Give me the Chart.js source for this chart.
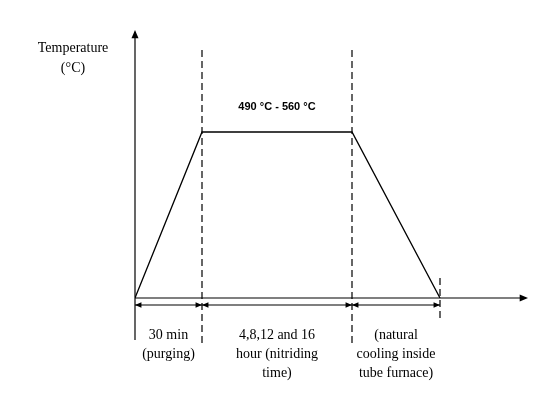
<!DOCTYPE html><html><head><script src="https://cdn.jsdelivr.net/npm/chart.js@4"></script>
<style>body{margin:0;background:#fff}#w{width:555px;height:411px}</style></head><body><div id="w"><canvas id="c"></canvas></div>
<script>
const stageX=[0,67,217,305];
const tempY=[0,1,1,0];
const boundaries=[67,217,305];
const rangeLabel="490 °C - 560 °C";
const stageLabels=[["30 min","(purging)"],["4,8,12 and 16","hour (nitriding","time)"],["(natural","cooling inside","tube furnace)"]];
const serif="'Liberation Serif','Times New Roman',serif";
const deco={id:'deco',afterDraw(ch){
 const c=ch.ctx,x=ch.scales.x,y=ch.scales.y;const X=v=>x.getPixelForValue(v),Y=v=>y.getPixelForValue(v);
 const x0=X(0),y0=Y(0);c.save();c.strokeStyle='#000';c.fillStyle='#000';c.lineWidth=1.2;
 function arrow(x1,y1,x2,y2,s){const a=Math.atan2(y2-y1,x2-x1);c.beginPath();c.moveTo(x2,y2);c.lineTo(x2-s*Math.cos(a-0.4),y2-s*Math.sin(a-0.4));c.lineTo(x2-s*Math.cos(a+0.4),y2-s*Math.sin(a+0.4));c.closePath();c.fill();}
 c.beginPath();c.moveTo(x0,y0);c.lineTo(x0,32);c.stroke();arrow(x0,y0,x0,30,9);
 c.beginPath();c.moveTo(x0,y0);c.lineTo(526,y0);c.stroke();arrow(x0,y0,528,y0,9);
 c.setLineDash([7,4]);
 boundaries.forEach((b,i)=>{const px=X(b);c.beginPath();if(i<2){c.moveTo(px,50);c.lineTo(px,345);}else{c.moveTo(px,278);c.lineTo(px,322);}c.stroke();});
 c.setLineDash([]);c.beginPath();c.moveTo(x0,y0);c.lineTo(x0,340);c.stroke();
 const pts=[0,...boundaries];
 for(let i=0;i<3;i++){const a=X(pts[i]),b=X(pts[i+1]),yy=305;c.beginPath();c.moveTo(a,yy);c.lineTo(b,yy);c.stroke();arrow(b,yy,a,yy,7);arrow(a,yy,b,yy,7);
  c.font='14px '+serif;c.textAlign='center';stageLabels[i].forEach((t,k)=>c.fillText(t,(a+b)/2,339+k*19));}
 c.font='bold 11px Arial, Liberation Sans, sans-serif';c.textAlign='center';c.fillText(rangeLabel,(X(67)+X(217))/2,110);
 c.font='14px '+serif;c.fillText('Temperature',73,52);c.fillText('(°C)',73,72);
 c.restore();}};
new Chart(document.getElementById('c'),{type:'line',data:{datasets:[{data:stageX.map((v,i)=>({x:v,y:tempY[i]})),borderColor:'#000',borderWidth:1.3,pointRadius:0,tension:0}]},
options:{responsive:true,maintainAspectRatio:false,animation:false,layout:{padding:{left:135,right:30,top:40,bottom:113}},
plugins:{legend:{display:false},tooltip:{enabled:false}},
scales:{x:{type:'linear',min:0,max:390,display:false},y:{min:0,max:1.554,display:false}}},plugins:[deco]});
</script></body></html>
